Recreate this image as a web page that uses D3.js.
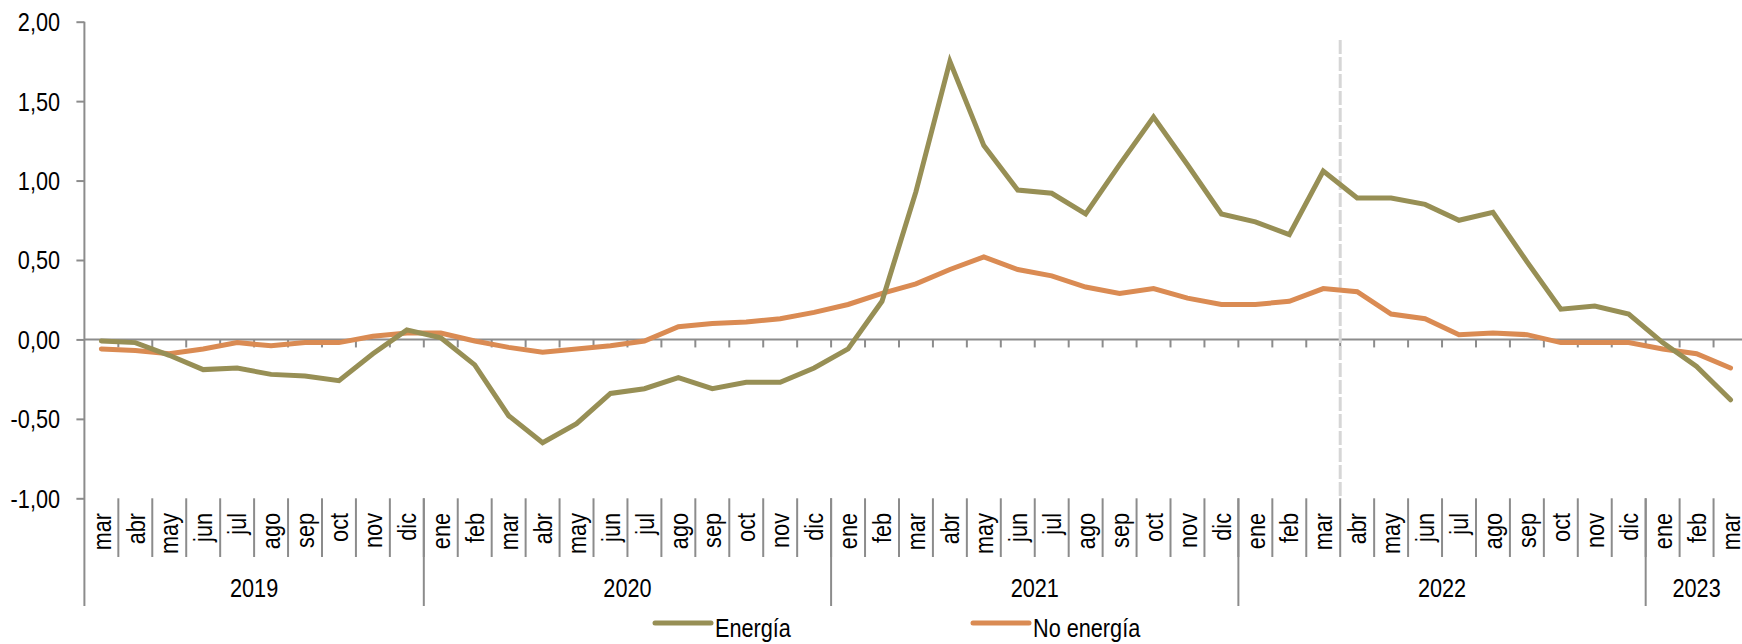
<!DOCTYPE html>
<html>
<head>
<meta charset="utf-8">
<script src="https://cdn.jsdelivr.net/npm/d3@7"></script>
<style>
  html, body { margin: 0; padding: 0; background: #fff; }
  svg { display: block; }
  text { font-family: "Liberation Sans Narrow", "Arial Narrow", "Liberation Sans", Arial, sans-serif; fill: #000; }
</style>
</head>
<body>
<div id="chart"></div>
<script>
const months = [
    'mar', 'abr', 'may', 'jun', 'jul', 'ago', 'sep', 'oct', 'nov', 'dic',
    'ene', 'feb', 'mar', 'abr', 'may', 'jun', 'jul', 'ago', 'sep', 'oct', 'nov', 'dic',
    'ene', 'feb', 'mar', 'abr', 'may', 'jun', 'jul', 'ago', 'sep', 'oct', 'nov', 'dic',
    'ene', 'feb', 'mar', 'abr', 'may', 'jun', 'jul', 'ago', 'sep', 'oct', 'nov', 'dic',
    'ene', 'feb', 'mar'
];

const years = ['2019', '2020', '2021', '2022', '2023'];
const monthsPerYear = [10, 12, 12, 12, 3];

const energia = [
    -0.01, -0.02, -0.10, -0.19, -0.18, -0.22, -0.23, -0.26, -0.09, 0.06,
    0.01, -0.16, -0.48, -0.65, -0.53, -0.34, -0.31, -0.24, -0.31, -0.27, -0.27, -0.18,
    -0.06, 0.24, 0.93, 1.75, 1.22, 0.94, 0.92, 0.79, 1.10, 1.40, 1.10, 0.79,
    0.74, 0.66, 1.06, 0.89, 0.89, 0.85, 0.75, 0.80, 0.49, 0.19, 0.21, 0.16,
    -0.02, -0.17, -0.38
];

const noEnergia = [
    -0.06, -0.07, -0.09, -0.06, -0.02, -0.04, -0.02, -0.02, 0.02, 0.04,
    0.04, -0.01, -0.05, -0.08, -0.06, -0.04, -0.01, 0.08, 0.10, 0.11, 0.13, 0.17,
    0.22, 0.29, 0.35, 0.44, 0.52, 0.44, 0.40, 0.33, 0.29, 0.32, 0.26, 0.22,
    0.22, 0.24, 0.32, 0.30, 0.16, 0.13, 0.03, 0.04, 0.03, -0.02, -0.02, -0.02,
    -0.06, -0.09, -0.18
];

const yTicks = [-1, -0.5, 0, 0.5, 1, 1.5, 2];
const markerIndex = 37; // línea vertical entre mar y abr 2022

const series = [
    { name: 'Energía', values: energia, color: '#978f55' },
    { name: 'No energía', values: noEnergia, color: '#da8b53' }
];

const config = {
    width: 1742,
    height: 644,
    left: 84.4,
    right: 1747.5,
    top: 21.7,
    bottom: 498.3,
    monthLineEnd: 557,
    yearLineEnd: 606,
    axisColor: '#8c8c8c',
    fontSize: 25.5,
    narrow: 0.85   // el original usa una fuente estrecha
};

const svg = d3.select('#chart').append('svg')
    .attr('width', config.width)
    .attr('height', config.height);

const x = d3.scaleBand()
    .domain(d3.range(months.length))
    .range([config.left, config.right]);

const y = d3.scaleLinear()
    .domain([-1, 2])
    .range([config.bottom, config.top]);

const fmt = d => d3.format('.2f')(d).replace('.', ',').replace('\u2212', '-');
const squeeze = 'scale(' + config.narrow + ',1)';

// eje y
const yAxis = svg.append('g')
    .attr('transform', 'translate(' + config.left + ',0)')
    .call(d3.axisLeft(y).tickValues(yTicks).tickFormat(fmt).tickSize(8));
yAxis.select('.domain').remove();
yAxis.selectAll('.tick line').attr('stroke', config.axisColor).attr('stroke-width', 2);
yAxis.selectAll('.tick text')
    .attr('x', 0)
    .attr('dy', '0.35em')
    .attr('transform', 'translate(-24.4,0) ' + squeeze)
    .attr('fill', '#000')
    .style('font-family', '"Liberation Sans Narrow", "Arial Narrow", "Liberation Sans", Arial, sans-serif')
    .style('font-size', config.fontSize + 'px');

svg.append('line')
    .attr('x1', config.left).attr('x2', config.left)
    .attr('y1', y(2)).attr('y2', config.yearLineEnd)
    .attr('stroke', config.axisColor).attr('stroke-width', 2);

// eje x en cero
svg.append('line')
    .attr('x1', config.left).attr('x2', config.right)
    .attr('y1', y(0)).attr('y2', y(0))
    .attr('stroke', config.axisColor).attr('stroke-width', 2);

const boundaries = d3.range(1, months.length).map(i => x(i));

svg.append('g').selectAll('line')
    .data(boundaries)
    .enter().append('line')
        .attr('x1', d => d).attr('x2', d => d)
        .attr('y1', y(0)).attr('y2', y(0) + 8)
        .attr('stroke', config.axisColor).attr('stroke-width', 2);

// separadores de meses
svg.append('g').selectAll('line')
    .data(boundaries)
    .enter().append('line')
        .attr('x1', d => d).attr('x2', d => d)
        .attr('y1', config.bottom).attr('y2', config.monthLineEnd)
        .attr('stroke', config.axisColor).attr('stroke-width', 2);

// etiquetas de meses (verticales)
svg.append('g').selectAll('text')
    .data(months)
    .enter().append('text')
        .attr('transform', (d, i) =>
            'translate(' + (x(i) + x.bandwidth() / 2) + ',513) rotate(-90) ' + squeeze)
        .attr('text-anchor', 'end')
        .attr('dy', '0.36em')
        .style('font-size', config.fontSize + 'px')
        .text(d => d);

// años
const yearStarts = monthsPerYear.map((n, i) => d3.sum(monthsPerYear.slice(0, i)));

svg.append('g').selectAll('line')
    .data(yearStarts.slice(1))
    .enter().append('line')
        .attr('x1', d => x(d)).attr('x2', d => x(d))
        .attr('y1', config.bottom).attr('y2', config.yearLineEnd)
        .attr('stroke', config.axisColor).attr('stroke-width', 2);

svg.append('g').selectAll('text')
    .data(years)
    .enter().append('text')
        .attr('transform', (d, i) => {
            const a = x(yearStarts[i]);
            const b = x(yearStarts[i] + monthsPerYear[i] - 1) + x.bandwidth();
            return 'translate(' + ((a + b) / 2) + ',597) ' + squeeze;
        })
        .attr('text-anchor', 'middle')
        .style('font-size', config.fontSize + 'px')
        .text(d => d);

// línea vertical punteada
svg.append('line')
    .attr('x1', x(markerIndex)).attr('x2', x(markerIndex))
    .attr('y1', 40).attr('y2', config.bottom)
    .attr('stroke', '#d6d6d6')
    .attr('stroke-width', 3)
    .attr('stroke-dasharray', '14,3');

// series
const line = d3.line()
    .x((d, i) => x(i) + x.bandwidth() / 2)
    .y(d => y(d));

svg.append('g').selectAll('path')
    .data(series.slice().reverse())
    .enter().append('path')
        .attr('d', d => line(d.values))
        .attr('fill', 'none')
        .attr('stroke', d => d.color)
        .attr('stroke-width', 5)
        .attr('stroke-linecap', 'round');

// leyenda
const legendPos = [655, 973];
const legend = svg.append('g').selectAll('g')
    .data(series)
    .enter().append('g')
        .attr('transform', (d, i) => 'translate(' + legendPos[i] + ',623)');

legend.append('line')
    .attr('x1', 0).attr('x2', 56)
    .attr('stroke', d => d.color)
    .attr('stroke-width', 5)
    .attr('stroke-linecap', 'round');

legend.append('text')
    .attr('transform', 'translate(60,14) ' + squeeze)
    .style('font-size', config.fontSize + 'px')
    .text(d => d.name);
</script>
</body>
</html>
